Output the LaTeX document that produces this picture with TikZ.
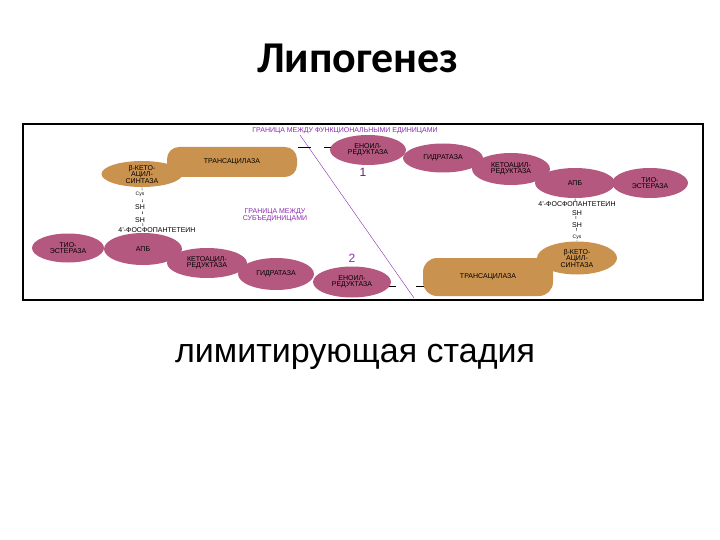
\documentclass[tikz,border=0pt]{standalone}
\usepackage{fontspec}
\setmainfont{Liberation Sans}
\newfontfamily\titlefont{Carlito}
\usetikzlibrary{shapes.geometric}
\definecolor{pinkc}{HTML}{B5587F}
\definecolor{tanc}{HTML}{C9924F}
\definecolor{purp}{HTML}{8A2BB0}
\begin{document}
\begin{tikzpicture}[x=1pt,y=-1pt,
  enz/.style={ellipse,fill=pinkc,inner sep=0pt,align=center,font=\fontsize{7}{6.5}\selectfont},
  tan/.style={ellipse,fill=tanc,inner sep=0pt,align=center,font=\fontsize{7}{6.5}\selectfont},
  lab/.style={font=\fontsize{7}{7}\selectfont,inner sep=0.5pt,fill=white},
  plab/.style={font=\fontsize{7}{7}\selectfont,text=purp,align=center,inner sep=0pt}]
\useasboundingbox (0,0) rectangle (720,540);
\node[font=\titlefont\bfseries\fontsize{44}{44}\selectfont] (title) at (358,58) {Липогенез};
\node[font=\fontsize{34}{34}\selectfont] (sub) at (355,357) {лимитирующая стадия};
\draw[line width=1.2pt] (23,124) rectangle (703,300);
% boundary line
\coordinate (b1) at (300,135); \coordinate (b2) at (414,298);
\draw[purp,thin] (b1) -- (b2);
\node[plab] (t1) at (345,131) {ГРАНИЦА МЕЖДУ ФУНКЦИОНАЛЬНЫМИ ЕДИНИЦАМИ};
\node[plab] (t2) at (275,215) {ГРАНИЦА МЕЖДУ\\СУБЪЕДИНИЦАМИ};
\node[text=purp!70!black,font=\fontsize{12}{12}\selectfont] (n1) at (363,172) {1};
\node[text=purp,font=\fontsize{12}{12}\selectfont] (n2) at (352,258) {2};
% left chain top
\node[tan,rounded corners=12pt,rectangle,minimum width=130pt,minimum height=30pt] (tr1) at (232,162) {ТРАНСАЦИЛАЗА};
\node[tan,minimum width=81pt,minimum height=26pt] (ks1) at (142,174) {β-КЕТО-\\АЦИЛ-\\СИНТАЗА};
\node[enz,minimum width=76pt,minimum height=30pt] (er1) at (368,150) {ЕНОИЛ-\\РЕДУКТАЗА};
\node[enz,minimum width=80pt,minimum height=29pt] (hy1) at (443,158) {ГИДРАТАЗА};
\node[enz,minimum width=78pt,minimum height=32pt] (kr1) at (511,169) {КЕТОАЦИЛ-\\РЕДУКТАЗА};
\node[enz,minimum width=76pt,minimum height=30pt] (te1) at (650,183) {ТИО-\\ЭСТЕРАЗА};
\node[enz,minimum width=80pt,minimum height=30pt] (acp1) at (575,183) {АПБ};
\draw (298,147) -- (311,147) (324,147) -- (331,147);
% right vertical
\node[tan,minimum width=80pt,minimum height=33pt] (ks2) at (577,258) {β-КЕТО-\\АЦИЛ-\\СИНТАЗА};
\node[tan,rounded corners=14pt,rectangle,minimum width=130pt,minimum height=38pt] (tr2) at (488,277) {ТРАНСАЦИЛАЗА};
\draw[dashed] (acp1.south) -- (ks2.north);
\node[lab] (p1) at (577,204) {4'-ФОСФОПАНТЕТЕИН};
\node[lab] (s1) at (577,213) {SH};
\node[lab] (s2) at (577,225) {SH};
\node[lab,font=\fontsize{5}{5}\selectfont] (c1) at (577,237) {Cys};
\draw (388,286) -- (396,286) (416,286) -- (424,286);
% left bottom chain
\node[enz,minimum width=72pt,minimum height=29pt] (te2) at (68,248) {ТИО-\\ЭСТЕРАЗА};
\node[enz,minimum width=80pt,minimum height=30pt] (kr2) at (207,263) {КЕТОАЦИЛ-\\РЕДУКТАЗА};
\node[enz,minimum width=78pt,minimum height=32pt] (acp2) at (143,249) {АПБ};
\node[enz,minimum width=76pt,minimum height=32pt] (hy2) at (276,274) {ГИДРАТАЗА};
\node[enz,minimum width=78pt,minimum height=31pt] (er2) at (352,282) {ЕНОИЛ-\\РЕДУКТАЗА};
\draw[dashed] (ks1.south) -- (acp2.north);
\node[lab,font=\fontsize{5}{5}\selectfont] (c2) at (140,194) {Cys};
\node[lab] (s3) at (140,207) {SH};
\node[lab] (s4) at (140,220) {SH};
\node[lab] (p2) at (157,230) {4'-ФОСФОПАНТЕТЕИН};
\end{tikzpicture}
\end{document}
